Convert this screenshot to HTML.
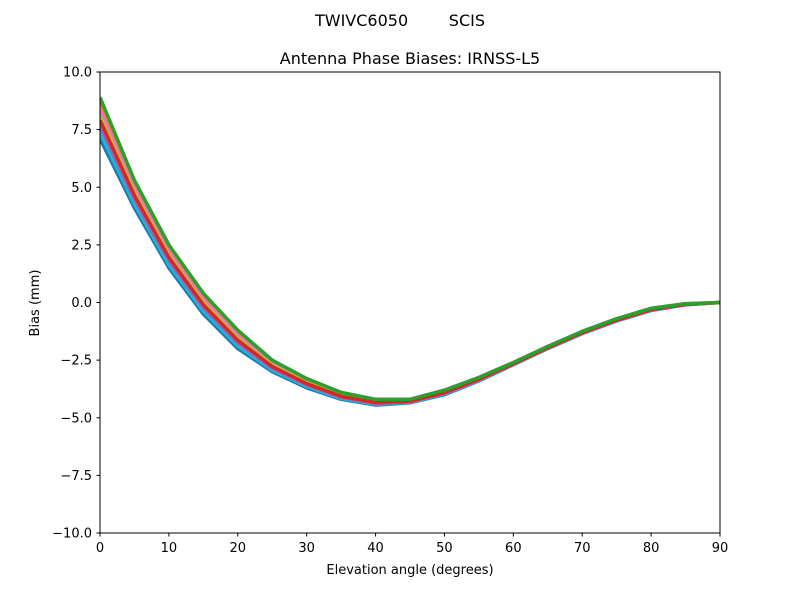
<!DOCTYPE html>
<html><head><meta charset="utf-8"><style>
body{margin:0;background:#fff;}
svg{font-family:"DejaVu Sans","Liberation Sans",sans-serif;}
</style></head><body>
<svg id="chart" width="800" height="600">
<defs><clipPath id="plotclip"><rect x="100" y="72" width="620" height="461"/></clipPath></defs>
<text x="400" y="26" text-anchor="middle" font-size="16" xml:space="preserve">TWIVC6050        SCIS</text>
<text x="410" y="64" text-anchor="middle" font-size="16">Antenna Phase Biases: IRNSS-L5</text>
<g id="series" clip-path="url(#plotclip)"></g>
<rect x="100" y="72" width="620" height="461" fill="none" stroke="#000" stroke-width="1"/>
<g id="axes"></g>
<text x="410" y="574" text-anchor="middle" font-size="13">Elevation angle (degrees)</text>
<text x="0" y="0" transform="translate(39,303) rotate(-90)" text-anchor="middle" font-size="13">Bias (mm)</text>
</svg>
<script>
const elevations=[0,5,10,15,20,25,30,35,40,45,50,55,60,65,70,75,80,85,90];
const s0=[8.9,5.3,2.5,0.4,-1.2,-2.5,-3.3,-3.9,-4.2,-4.2,-3.8,-3.25,-2.6,-1.9,-1.25,-0.7,-0.25,-0.05,0];
const s1=[8.63,5.12,2.35,0.27,-1.32,-2.58,-3.36,-3.95,-4.24,-4.22,-3.83,-3.27,-2.62,-1.92,-1.27,-0.72,-0.27,-0.06,0];
const s2=[8.36,4.94,2.2,0.13,-1.44,-2.65,-3.42,-3.99,-4.28,-4.25,-3.86,-3.3,-2.63,-1.93,-1.28,-0.73,-0.28,-0.07,0];
const s3=[8.09,4.76,2.05,-0.01,-1.56,-2.73,-3.48,-4.04,-4.31,-4.27,-3.89,-3.32,-2.65,-1.95,-1.3,-0.75,-0.3,-0.07,0];
const s4=[7.91,4.64,1.95,-0.1,-1.64,-2.78,-3.52,-4.07,-4.34,-4.28,-3.91,-3.33,-2.66,-1.96,-1.31,-0.76,-0.31,-0.08,0];
const s5=[7.64,4.46,1.8,-0.23,-1.76,-2.85,-3.58,-4.11,-4.38,-4.31,-3.94,-3.36,-2.67,-1.97,-1.32,-0.77,-0.32,-0.09,0];
const s6=[7.37,4.28,1.65,-0.37,-1.88,-2.93,-3.64,-4.16,-4.41,-4.33,-3.97,-3.38,-2.69,-1.99,-1.34,-0.79,-0.34,-0.09,0];
const s7=[7.1,4.1,1.5,-0.5,-2.0,-3.0,-3.7,-4.2,-4.45,-4.35,-4.0,-3.4,-2.7,-2.0,-1.35,-0.8,-0.35,-0.1,0];
const seriesList=[s7,s1,s6,s2,s5,s3,s4,s0];
const xTicks=[0,10,20,30,40,50,60,70,80,90];
const yTicks=[10,7.5,5,2.5,0,-2.5,-5,-7.5,-10];
const yTickLabels=["10.0","7.5","5.0","2.5","0.0","\u22122.5","\u22125.0","\u22127.5","\u221210.0"];
const colors=["#1f77b4","#ff7f0e","#2ca02c","#d62728","#9467bd","#8c564b","#e377c2","#7f7f7f","#bcbd22","#17becf"];
const NS="http://www.w3.org/2000/svg";
function xs(v){return 100+v/90*620;}
function ys(v){return 72+(10-v)/20*461;}
const sg=document.getElementById('series');
seriesList.forEach((s,i)=>{
  const p=document.createElementNS(NS,'path');
  p.setAttribute('d',s.map((v,j)=>(j?'L':'M')+xs(elevations[j]).toFixed(2)+','+ys(v).toFixed(2)).join(''));
  p.setAttribute('fill','none');
  p.setAttribute('stroke',colors[[0,1,9,6,4,8,3,2][i]]);
  p.setAttribute('stroke-width','3.5');
  p.setAttribute('stroke-linejoin','round');
  
  
  sg.appendChild(p);
});
const ag=document.getElementById('axes');
xTicks.forEach(t=>{
  const l=document.createElementNS(NS,'line');
  l.setAttribute('x1',xs(t));l.setAttribute('x2',xs(t));l.setAttribute('y1',533);l.setAttribute('y2',536.5);
  l.setAttribute('stroke','#000');
  
  
  ag.appendChild(l);
  const tx=document.createElementNS(NS,'text');
  tx.setAttribute('x',xs(t));tx.setAttribute('y',552);tx.setAttribute('text-anchor','middle');tx.setAttribute('font-size','13');
  tx.textContent=t;
  
  
  ag.appendChild(tx);
});
yTicks.forEach((t,i)=>{
  const l=document.createElementNS(NS,'line');
  l.setAttribute('x1',96.5);l.setAttribute('x2',100);l.setAttribute('y1',ys(t));l.setAttribute('y2',ys(t));
  l.setAttribute('stroke','#000');
  
  
  ag.appendChild(l);
  const tx=document.createElementNS(NS,'text');
  tx.setAttribute('x',92);tx.setAttribute('y',ys(t)+4.5);tx.setAttribute('text-anchor','end');tx.setAttribute('font-size','13');
  tx.textContent=yTickLabels[i];
  
  
  ag.appendChild(tx);
});
</script>
</body></html>
